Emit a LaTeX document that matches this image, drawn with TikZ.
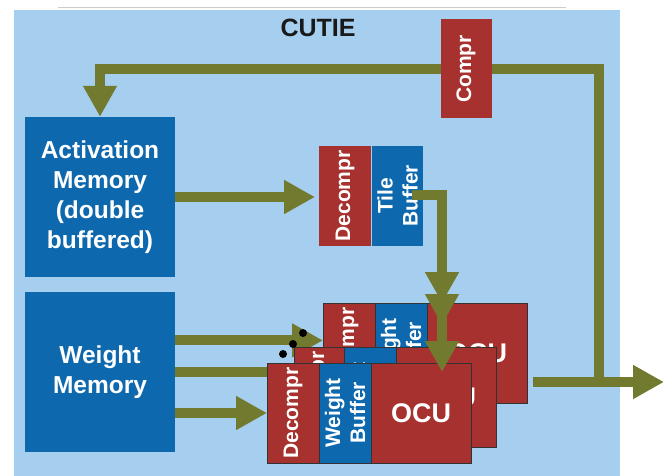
\documentclass[tikz,border=0pt]{standalone}
\usepackage{fontspec}
\setmainfont{Liberation Sans}
\usepackage{xcolor}
\usepackage{tikz}
\usetikzlibrary{arrows.meta, positioning, calc}

\definecolor{bgblue}{RGB}{166,207,239}
\definecolor{memblue}{RGB}{14,104,174}
\definecolor{unitred}{RGB}{166,49,46}
\definecolor{flowgreen}{RGB}{114,122,48}

\begin{document}
\begin{tikzpicture}[
    x=1pt, y=-1pt,
    mem/.style={fill=memblue, text=white, align=center, minimum width=150pt, minimum height=160pt, inner sep=0pt, font=\fontsize{24.5pt}{30pt}\selectfont\bfseries},
    unit/.style={fill=unitred, inner sep=0pt, outer sep=0pt, minimum height=100pt},
    buf/.style={fill=memblue, inner sep=0pt, outer sep=0pt, minimum height=100pt},
    layer/.style={draw=black!80, line width=1pt},
    vtext/.style={rotate=90, text=white, align=center, font=\fontsize{21pt}{25pt}\selectfont\bfseries},
    ocu/.style={unit, layer, minimum width=100pt, text=white, font=\fontsize{27pt}{30pt}\selectfont\bfseries},
    flow/.style={draw=flowgreen, line width=10pt, line join=miter},
    arrow/.style={flow, -{Triangle[length=31pt, width=32pt]}},
    dot/.style={circle, fill=black, inner sep=0pt, minimum size=8pt}
]
\useasboundingbox (0,0) rectangle (669,476);

% frame of the chip
\fill[bgblue] (14,10) rectangle (620,476);
\draw[gray!40, line width=1pt] (58,8) -- (566,8);
\node[font=\fontsize{25pt}{30pt}\selectfont\bfseries, text=black!90] (title) at (318,28) {CUTIE};

% memories
\node[mem] (act) at (100,197) {Activation\\Memory\\(double\\buffered)};
\node[mem, below=15pt of act] (wmem) {Weight\\Memory};

% tile path
\node[unit, minimum width=52pt, label={[vtext]center:Decompr}] (dect) at (345,196) {};
\node[buf, minimum width=51pt, right=1pt of dect, label={[vtext]center:{Tile\\Buffer}}] (tile) {};

% feedback and output
\coordinate (jn) at (599,382);
\coordinate (ret) at (599,69);
\coordinate (out) at (664,382);
\draw[arrow] (jn) -- (ret) -| (act.north);
\node[unit, minimum width=51pt, minimum height=99pt, label={[vtext]center:Compr}] (compr) at (466,69) {};

\draw[arrow, shorten >=4pt] (act.east) -- (act.east -| dect.west);

% OCU stack: back layer
\node[unit, layer, minimum width=52pt, label={[vtext]center:Decompr}] (decb) at (349,353) {};
\node[buf, layer, minimum width=52pt, right=0pt of decb, label={[vtext]center:{Weight\\Buffer}}] (wbb) {};
\node[ocu, right=0pt of wbb] (ocub) {OCU};
\draw[arrow] ($(wmem.east)+(0,-32)$) coordinate (w1) -- (w1 -| decb.west);

% middle layer
\node[unit, layer, minimum width=50pt, label={[vtext]center:Decompr}] (decm) at (319,397) {};
\node[buf, layer, minimum width=52pt, right=0pt of decm, label={[vtext]center:{Weight\\Buffer}}] (wbm) {};
\node[ocu, right=0pt of wbm] (ocum) {OCU};
\draw[flow] (wmem.east) -- (wmem.east -| decm.west);

% front layer
\node[unit, layer, minimum width=52pt, label={[vtext]center:Decompr}] (decf) at (293,413) {};
\node[buf, layer, minimum width=52pt, right=0pt of decf, label={[vtext]center:{Weight\\Buffer}}] (wbf) {};
\node[ocu, right=0pt of wbf] (ocuf) {OCU};
\draw[arrow] (wmem.east |- decf.west) -- (decf.west);

\node[dot] (d1) at (303,333) {};
\node[dot] (d2) at (293,344) {};
\node[dot] (d3) at (283,354) {};

% tile buffer into the OCUs
\coordinate (ts) at ($(tile.east)+(-11,-1)$);
\coordinate (drop) at ($(ocub.north west)+(15,0)$);
\draw[arrow] (ts) -| (drop);
\draw[arrow] (ts) -| ($(drop)+(0,22)$);
\draw[arrow] (ts) -| ($(drop)+(0,69)$);

\draw[arrow] ($(ocub.east)+(6,29)$) -- (out);

\end{tikzpicture}
\end{document}
